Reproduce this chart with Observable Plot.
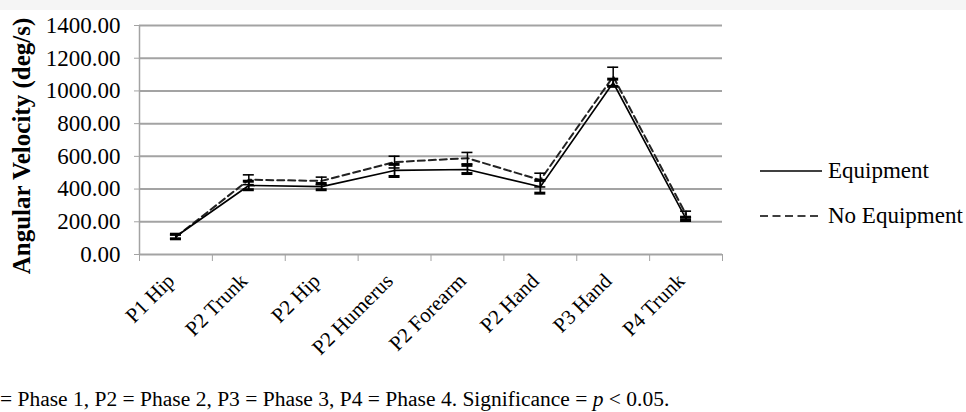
<!DOCTYPE html>
<html><head><meta charset="utf-8">
<script src="https://cdn.jsdelivr.net/npm/d3@7"></script>
<script src="https://cdn.jsdelivr.net/npm/@observablehq/plot@0.6"></script>
<style>
body{margin:0;background:#fff;font-family:"Liberation Serif","Times New Roman",serif;color:#000;}
#wrap{position:relative;width:966px;height:412px;overflow:hidden;background:#fff;}
#topband{position:absolute;left:0;top:0;width:966px;height:10px;background:#f5f5f5;}
#chart{position:absolute;left:0;top:0;}
.leg{position:absolute;left:760px;height:23px;line-height:23px;font-size:23px;white-space:nowrap;display:flex;align-items:center;}
.leg svg{margin-right:6px;}
#caption{position:absolute;left:0;top:389px;font-size:20px;line-height:20px;white-space:nowrap;transform:scaleX(1.075);transform-origin:0 0;}
</style>
</head><body>
<div id="wrap">
  <div id="topband"></div>
  <div id="chart"></div>
  <div id="legend"></div>
  <div id="caption"></div>
</div>
<script>
const categories = ["P1 Hip","P2 Trunk","P2 Hip","P2 Humerus","P2 Forearm","P2 Hand","P3 Hand","P4 Trunk"];
const equipment = [110, 422, 415, 514, 520, 414, 1050, 218];
const equipmentErr = [14, 26, 19, 37, 25, 39, 22, 10];
const noEquipment = [108, 457, 450, 565, 589, 455, 1088, 245];
const noEquipmentErr = [12, 30, 23, 36, 35, 42, 57, 20];
const yTicks = [0, 200, 400, 600, 800, 1000, 1200, 1400];
const yTitle = "Angular Velocity (deg/s)";
const seriesNames = ["Equipment", "No Equipment"];
const captionParts = ["= Phase 1, P2 = Phase 2, P3 = Phase 3, P4 = Phase 4. Significance = ", "p", " < 0.05."];

const rows = categories.map((c, i) => ({
  cat: c, x: i + 0.5,
  eq: equipment[i], eqLo: equipment[i] - equipmentErr[i], eqHi: equipment[i] + equipmentErr[i],
  ne: noEquipment[i], neLo: noEquipment[i] - noEquipmentErr[i], neHi: noEquipment[i] + noEquipmentErr[i]
}));
const grey = "#a3a3a3";
const cap = -5.5;

const chart = Plot.plot({
  width: 966, height: 380,
  marginLeft: 139, marginRight: 244, marginTop: 25, marginBottom: 126,
  style: {fontFamily: "'Liberation Serif', 'Times New Roman', serif", fontSize: "23px", color: "#000", background: "transparent"},
  x: {domain: [0, categories.length]},
  y: {domain: [0, 1400]},
  marks: [
    Plot.ruleY(yTicks.filter(t => t > 0), {stroke: grey, strokeWidth: 2}),
    Plot.ruleY([0], {stroke: grey, strokeWidth: 2}),
    Plot.ruleX([0], {y1: 0, y2: 1400, stroke: grey, strokeWidth: 1.5}),
    Plot.axisY({ticks: yTicks, tickFormat: d => d.toFixed(2), tickSize: 5, tickPadding: 14, stroke: grey, fill: "#000", fontSize: 23, label: null}),
    Plot.axisX({ticks: d3.range(0, categories.length + 1), tickFormat: () => "", tickSize: 7, stroke: grey, label: null}),
    Plot.axisX({ticks: rows.map(d => d.x), tickFormat: v => categories[Math.round(v - 0.5)], tickSize: 0, tickRotate: -45, tickPadding: 23, dx: -5, fontSize: 21, fill: "#000", label: null}),
    Plot.text([yTitle], {text: d => d, frameAnchor: "left", textAnchor: "middle", rotate: -90, dx: -118, dy: 6, fontSize: 25, fontWeight: "bold", fill: "#000"}),
    Plot.line(rows, {x: "x", y: "ne", stroke: "#222", strokeWidth: 2, strokeDasharray: "7,4"}),
    Plot.line(rows, {x: "x", y: "eq", stroke: "#000", strokeWidth: 1.6}),
    Plot.ruleX(rows, {x: "x", y1: "neLo", y2: "neHi", stroke: "#000", strokeWidth: 1.5}),
    Plot.ruleY(rows, {y: "neHi", x1: "x", x2: "x", insetLeft: cap, insetRight: cap, stroke: "#000", strokeWidth: 1.6}),
    Plot.ruleY(rows, {y: "neLo", x1: "x", x2: "x", insetLeft: cap, insetRight: cap, stroke: "#000", strokeWidth: 1.6}),
    Plot.ruleX(rows, {x: "x", y1: "eqLo", y2: "eqHi", stroke: "#000", strokeWidth: 1.8}),
    Plot.ruleY(rows, {y: "eqHi", x1: "x", x2: "x", insetLeft: cap, insetRight: cap, stroke: "#000", strokeWidth: 3}),
    Plot.ruleY(rows, {y: "eqLo", x1: "x", x2: "x", insetLeft: cap, insetRight: cap, stroke: "#000", strokeWidth: 3})
  ]
});
document.getElementById("chart").appendChild(chart);

const legend = document.getElementById("legend");
const legTops = [159, 204];
seriesNames.forEach((name, i) => {
  const div = document.createElement("div");
  div.className = "leg";
  div.style.top = legTops[i] + "px";
  div.innerHTML = `<svg width="62" height="6"><line x1="0" x2="62" y1="3" y2="3" stroke="#000" stroke-width="1.5" ${i === 1 ? 'stroke-dasharray="8,4.5"' : ''}/></svg><span>${name}</span>`;
  legend.appendChild(div);
});

document.getElementById("caption").innerHTML = captionParts[0] + "<i>" + captionParts[1] + "</i>" + captionParts[2];
</script>
</body></html>
